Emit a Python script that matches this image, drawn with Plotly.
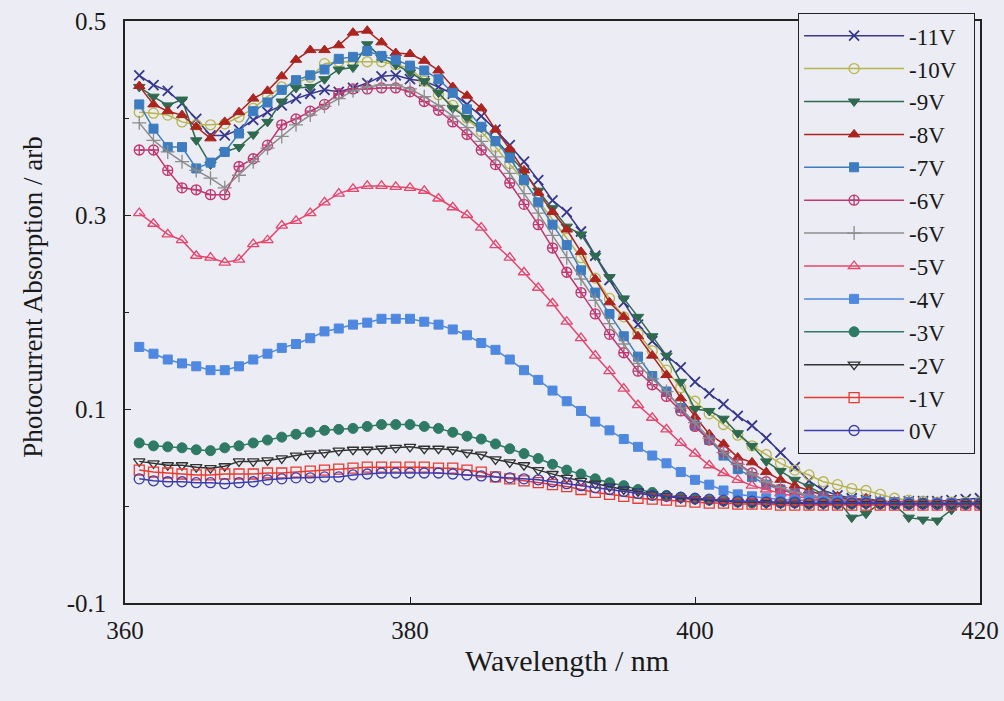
import plotly.graph_objects as go

wavelength = list(range(361, 421))

v_m11 = [0.444,0.434,0.428,0.415,0.399,0.382,0.382,0.388,0.398,0.406,
         0.413,0.420,0.425,0.429,0.427,0.431,0.436,0.443,0.444,0.440,
         0.438,0.432,0.425,0.414,0.402,0.388,0.372,0.355,0.336,0.315,
         0.303,0.283,0.258,0.233,0.210,0.187,0.170,0.155,0.143,0.128,
         0.116,0.105,0.093,0.083,0.070,0.055,0.040,0.026,0.016,0.011,
         0.008,0.006,0.005,0.004,0.005,0.005,0.005,0.006,0.007,0.008]
v_m10 = [0.406,0.405,0.403,0.396,0.393,0.393,0.394,0.401,0.410,0.422,
         0.432,0.436,0.442,0.456,0.458,0.458,0.458,0.458,0.455,0.451,
         0.438,0.424,0.413,0.400,0.386,0.370,0.353,0.335,0.315,0.296,
         0.276,0.256,0.235,0.214,0.195,0.178,0.160,0.140,0.122,0.108,
         0.095,0.084,0.073,0.062,0.053,0.044,0.037,0.032,0.025,0.022,
         0.018,0.016,0.012,0.008,0.006,0.005,0.004,0.004,0.004,0.004]
v_m9 = [0.432,0.422,0.413,0.419,0.377,0.352,0.365,0.370,0.383,0.396,
        0.417,0.431,0.432,0.440,0.450,0.452,0.476,0.462,0.455,0.447,
        0.438,0.426,0.410,0.400,0.390,0.378,0.362,0.345,0.325,0.307,
        0.288,0.280,0.258,0.236,0.214,0.195,0.175,0.155,0.128,0.100,
        0.098,0.090,0.075,0.062,0.046,0.036,0.027,0.020,0.012,0.006,
        -0.012,-0.008,0.003,0.001,-0.012,-0.014,-0.015,-0.004,0.003,0.004]
v_m8 = [0.433,0.414,0.407,0.403,0.391,0.379,0.396,0.406,0.420,0.428,
        0.443,0.460,0.470,0.470,0.475,0.488,0.490,0.478,0.467,0.466,
        0.459,0.449,0.432,0.423,0.410,0.388,0.368,0.346,0.323,0.303,
        0.285,0.262,0.234,0.210,0.195,0.175,0.155,0.135,0.111,0.092,
        0.074,0.064,0.050,0.045,0.035,0.027,0.021,0.016,0.011,0.010,
        0.006,0.008,0.005,0.004,0.005,0.003,0.004,0.003,0.002,0.003]
v_m7 = [0.414,0.389,0.370,0.370,0.348,0.354,0.365,0.384,0.407,0.416,
        0.429,0.439,0.444,0.450,0.461,0.463,0.469,0.464,0.460,0.454,
        0.449,0.440,0.426,0.409,0.391,0.376,0.359,0.336,0.313,0.290,
        0.269,0.243,0.220,0.198,0.175,0.154,0.134,0.118,0.101,0.083,
        0.068,0.052,0.038,0.030,0.022,0.017,0.013,0.011,0.009,0.007,
        0.006,0.005,0.004,0.004,0.004,0.003,0.003,0.003,0.003,0.003]
v_m6a = [0.367,0.367,0.346,0.328,0.326,0.321,0.321,0.350,0.358,0.372,
         0.393,0.399,0.407,0.414,0.425,0.430,0.430,0.431,0.431,0.427,
         0.417,0.408,0.396,0.383,0.367,0.352,0.333,0.311,0.290,0.266,
         0.241,0.220,0.198,0.177,0.158,0.139,0.125,0.113,0.098,0.082,
         0.068,0.056,0.044,0.034,0.025,0.017,0.013,0.010,0.008,0.006,
         0.005,0.004,0.004,0.003,0.003,0.003,0.002,0.002,0.002,0.002]
v_m6b = [0.395,0.377,0.365,0.355,0.346,0.338,0.328,0.341,0.355,0.369,
         0.381,0.393,0.403,0.412,0.420,0.428,0.432,0.434,0.434,0.430,
         0.422,0.413,0.402,0.390,0.376,0.360,0.343,0.322,0.302,0.279,
         0.256,0.234,0.212,0.188,0.167,0.147,0.131,0.118,0.101,0.086,
         0.070,0.055,0.043,0.033,0.025,0.019,0.014,0.011,0.008,0.006,
         0.005,0.004,0.004,0.003,0.003,0.003,0.002,0.002,0.002,0.002]
v_m5 = [0.302,0.291,0.280,0.274,0.258,0.256,0.251,0.254,0.270,0.274,
        0.289,0.294,0.302,0.313,0.322,0.327,0.330,0.330,0.329,0.328,
        0.325,0.317,0.308,0.300,0.287,0.269,0.256,0.241,0.225,0.209,
        0.190,0.173,0.155,0.139,0.121,0.104,0.091,0.079,0.065,0.054,
        0.042,0.034,0.027,0.021,0.017,0.013,0.010,0.008,0.006,0.005,
        0.004,0.003,0.003,0.003,0.002,0.002,0.002,0.002,0.002,0.002]
v_m4 = [0.164,0.157,0.151,0.147,0.144,0.140,0.140,0.144,0.151,0.157,
        0.163,0.167,0.173,0.180,0.183,0.187,0.189,0.193,0.193,0.193,
        0.190,0.187,0.182,0.176,0.168,0.161,0.151,0.140,0.130,0.119,
        0.108,0.098,0.087,0.078,0.069,0.061,0.052,0.044,0.035,0.027,
        0.022,0.016,0.012,0.010,0.008,0.007,0.006,0.006,0.005,0.005,
        0.004,0.004,0.004,0.003,0.003,0.003,0.003,0.003,0.003,0.003]
v_m3 = [0.065,0.062,0.061,0.060,0.058,0.057,0.060,0.062,0.065,0.068,
        0.071,0.074,0.076,0.078,0.079,0.080,0.082,0.084,0.084,0.084,
        0.082,0.080,0.076,0.072,0.069,0.064,0.059,0.054,0.049,0.043,
        0.037,0.033,0.028,0.024,0.021,0.017,0.014,0.011,0.009,0.007,
        0.006,0.005,0.004,0.003,0.004,0.003,0.003,0.002,0.003,0.002,
        0.002,0.003,0.002,0.002,0.002,0.003,0.002,0.002,0.003,0.003]
v_m2 = [0.046,0.044,0.042,0.042,0.040,0.039,0.041,0.046,0.046,0.047,
        0.049,0.052,0.054,0.055,0.057,0.058,0.058,0.059,0.060,0.061,
        0.059,0.059,0.058,0.055,0.053,0.048,0.045,0.042,0.037,0.033,
        0.029,0.026,0.023,0.020,0.017,0.015,0.012,0.010,0.008,0.007,
        0.006,0.005,0.004,0.004,0.003,0.003,0.003,0.002,0.002,0.002,
        0.002,0.002,0.002,0.002,0.002,0.002,0.002,0.002,0.002,0.002]
v_m1 = [0.037,0.035,0.034,0.033,0.032,0.032,0.033,0.033,0.033,0.034,
        0.034,0.035,0.036,0.037,0.038,0.039,0.040,0.040,0.040,0.040,
        0.040,0.039,0.039,0.037,0.035,0.030,0.028,0.026,0.024,0.022,
        0.020,0.017,0.014,0.012,0.010,0.008,0.007,0.006,0.005,0.004,
        0.003,0.003,0.002,0.002,0.002,0.001,0.001,0.001,0.001,0.001,
        0.001,0.001,0.001,0.001,0.001,0.001,0.001,0.001,0.001,0.001]
v_0 = [0.028,0.026,0.025,0.025,0.024,0.024,0.023,0.024,0.025,0.027,
       0.028,0.029,0.029,0.030,0.030,0.032,0.033,0.034,0.034,0.034,
       0.034,0.034,0.033,0.032,0.031,0.030,0.029,0.028,0.027,0.025,
       0.023,0.021,0.019,0.017,0.015,0.013,0.011,0.010,0.009,0.008,
       0.007,0.006,0.005,0.005,0.004,0.004,0.004,0.003,0.003,0.003,
       0.003,0.003,0.003,0.002,0.002,0.002,0.002,0.002,0.002,0.002]

series_names = ["-11V", "-10V", "-9V", "-8V", "-7V", "-6V", "-6V", "-5V",
                "-4V", "-3V", "-2V", "-1V", "0V"]
series_values = [v_m11, v_m10, v_m9, v_m8, v_m7, v_m6a, v_m6b, v_m5,
                 v_m4, v_m3, v_m2, v_m1, v_0]
x_ticks = [360, 380, 400, 420]
y_ticks = [-0.1, 0.1, 0.3, 0.5]
y_tick_text = ["-0.1", "0.1", "0.3", "0.5"]

styles = [
    dict(color="#38388e", symbol="x-thin", size=10, lw=1.8),
    dict(color="#b7b54e", symbol="circle-open", size=10, lw=1.3),
    dict(color="#2f6a50", symbol="triangle-down", size=10, lw=1),
    dict(color="#ac2420", symbol="triangle-up", size=10, lw=1),
    dict(color="#3d7cc0", symbol="square", size=9, lw=1),
    dict(color="#c43470", symbol="circle-cross-open", size=10, lw=1.3),
    dict(color="#8c8c8c", symbol="cross-thin", size=10, lw=1.3),
    dict(color="#e8466c", symbol="triangle-up-open", size=10, lw=1.3),
    dict(color="#4f88e0", symbol="square", size=9, lw=1),
    dict(color="#2f7a64", symbol="circle", size=10, lw=1),
    dict(color="#333333", symbol="triangle-down-open", size=10, lw=1.3),
    dict(color="#ec3a30", symbol="square-open", size=10, lw=1.3),
    dict(color="#3c3cae", symbol="circle-open", size=10, lw=1.3),
]

fig = go.Figure()
for name, vals, st in zip(series_names, series_values, styles):
    fig.add_trace(go.Scatter(
        x=wavelength, y=vals, name=name + "\u00a0\u00a0", mode="lines+markers",
        line=dict(color=st["color"], width=1.5),
        marker=dict(symbol=st["symbol"], size=st["size"], color=st["color"],
                    line=dict(color=st["color"], width=st["lw"])),
    ))

bg = "#ececf4"
font_family = "Liberation Serif, Times New Roman, serif"
fig.update_layout(
    width=1004, height=701,
    paper_bgcolor=bg, plot_bgcolor=bg,
    margin=dict(l=125, r=24, t=21, b=98),
    font=dict(family=font_family, color="#1a1a1a"),
    showlegend=True,
    legend=dict(
        x=0.787, y=1.0137, xanchor="left", yanchor="top",
        bgcolor=bg, bordercolor="#222", borderwidth=1.2,
        font=dict(family=font_family, size=23, color="#1a1a1a"),
        itemwidth=100, maxheight=1.0, traceorder="normal",
    ),
    xaxis=dict(
        range=[360, 420], tickvals=x_ticks, automargin=False,
        ticks="inside", ticklen=6, tickcolor="#222",
        showline=True, linecolor="#222", linewidth=1.5, mirror=True,
        showgrid=False, zeroline=False,
        tickfont=dict(size=25), ticklabelstandoff=4,
    ),
    yaxis=dict(
        range=[-0.1, 0.5], tickvals=y_ticks, ticktext=y_tick_text, automargin=False,
        ticks="inside", ticklen=6, tickcolor="#222",
        minor=dict(tickvals=[0.0, 0.2, 0.4], ticks="inside", ticklen=4, tickcolor="#222"),
        showline=True, linecolor="#222", linewidth=1.5, mirror=True,
        showgrid=False, zeroline=False,
        tickfont=dict(size=25), ticklabelstandoff=12,
    ),
    annotations=[
        dict(text="Photocurrent Absorption / arb", textangle=-90,
             xref="paper", yref="paper", x=-0.1076, y=0.526,
             xanchor="center", yanchor="middle", showarrow=False,
             font=dict(size=27, family=font_family, color="#1a1a1a")),
        dict(text="Wavelength / nm",
             xref="paper", yref="paper", x=0.517, y=-0.098,
             xanchor="center", yanchor="middle", showarrow=False,
             font=dict(size=30, family=font_family, color="#1a1a1a")),
    ],
)

fig.write_html("out.html")
